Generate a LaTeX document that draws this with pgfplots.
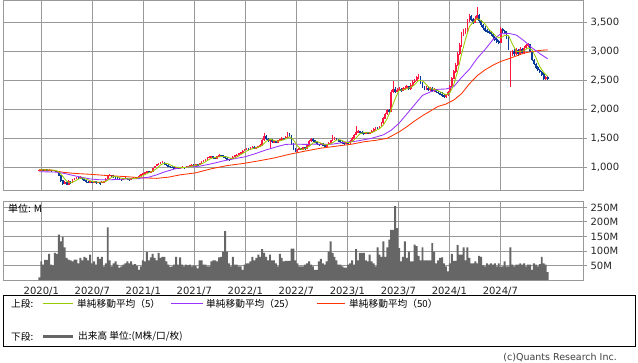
\documentclass[border=0pt]{standalone}
\usepackage{fontspec}
\setmainfont{DejaVu Sans}
\newfontfamily\jp{Noto Sans CJK JP}
\usepackage{pgfplots}
\pgfplotsset{compat=1.18}
\usepackage{pgfplotstable}

\definecolor{upc}{HTML}{FF1744}
\definecolor{dnc}{HTML}{0A3A9A}
\definecolor{mafive}{HTML}{99CC00}
\definecolor{matwentyfive}{HTML}{9933FF}
\definecolor{mafifty}{HTML}{FF3300}
\definecolor{gridc}{HTML}{999999}
\definecolor{volc}{HTML}{666666}

\pgfplotstableread{
i O H L C
0 950 965 940 955
1 955 975 950 965
2 965 970 940 950
3 950 970 945 962
4 962 968 940 948
5 948 965 942 958
6 958 962 935 945
7 945 962 940 955
8 955 958 930 940
9 940 945 915 925
10 925 930 850 860
11 860 870 740 770
12 770 790 700 720
13 720 760 710 745
14 745 755 690 705
15 705 775 700 760
16 760 770 720 735
17 735 800 730 790
18 790 820 780 810
19 810 840 800 830
20 830 840 805 815
21 815 850 810 835
22 835 840 790 800
23 800 805 770 780
24 780 785 740 750
25 750 765 735 745
26 745 770 740 760
27 760 765 730 740
28 740 765 735 755
29 755 760 725 735
30 735 755 730 745
31 745 750 695 730
32 730 760 725 750
33 750 770 745 760
34 760 810 755 800
35 800 865 795 850
36 850 880 845 870
37 870 875 845 855
38 855 860 825 835
39 835 840 810 820
40 820 830 800 810
41 810 820 790 800
42 800 805 780 790
43 790 815 785 805
44 805 825 800 815
45 815 820 790 800
46 800 805 780 790
47 790 815 785 805
48 805 825 800 815
49 815 830 810 820
50 820 840 815 830
51 830 860 825 850
52 850 890 845 880
53 880 910 875 900
54 900 920 890 910
55 910 935 905 925
56 925 930 905 915
57 915 940 910 930
58 930 995 925 985
59 985 1030 980 1020
60 1020 1055 1015 1045
61 1045 1080 1040 1070
62 1070 1095 1060 1085
63 1085 1110 1075 1095
64 1095 1100 1050 1060
65 1060 1070 1030 1040
66 1040 1050 1010 1020
67 1020 1030 1000 1010
68 1010 1020 990 1000
69 1000 1010 980 990
70 990 1010 985 1000
71 1000 1005 975 985
72 985 1005 980 995
73 995 1015 990 1005
74 1005 1010 980 990
75 990 1020 985 1010
76 1010 1030 1005 1020
77 1020 1040 1015 1030
78 1030 1050 1025 1040
79 1040 1050 1025 1035
80 1035 1055 1030 1045
81 1045 1055 1030 1040
82 1040 1080 1035 1070
83 1070 1105 1065 1095
84 1095 1130 1090 1120
85 1120 1150 1115 1140
86 1140 1170 1135 1160
87 1160 1195 1155 1180
88 1180 1200 1170 1185
89 1185 1190 1155 1165
90 1165 1175 1140 1155
91 1155 1200 1150 1190
92 1190 1225 1185 1210
93 1210 1220 1190 1200
94 1200 1205 1175 1185
95 1185 1190 1150 1160
96 1160 1170 1130 1140
97 1140 1150 1115 1130
98 1130 1160 1125 1150
99 1150 1190 1145 1180
100 1180 1210 1175 1200
101 1200 1225 1190 1215
102 1215 1250 1210 1240
103 1240 1270 1235 1260
104 1260 1290 1250 1280
105 1280 1310 1275 1300
106 1300 1335 1295 1320
107 1320 1330 1295 1310
108 1310 1355 1305 1340
109 1340 1365 1330 1350
110 1350 1360 1320 1335
111 1335 1355 1325 1345
112 1345 1370 1335 1355
113 1355 1395 1350 1380
114 1380 1490 1375 1470
115 1470 1590 1460 1540
116 1540 1560 1480 1490
117 1490 1500 1440 1460
118 1460 1490 1330 1470
119 1470 1480 1430 1440
120 1440 1465 1425 1450
121 1450 1460 1415 1430
122 1430 1475 1420 1460
123 1460 1495 1450 1480
124 1480 1515 1470 1500
125 1500 1510 1475 1490
126 1490 1535 1480 1520
127 1520 1615 1510 1580
128 1580 1600 1525 1540
129 1540 1550 1400 1410
130 1410 1420 1300 1320
131 1320 1330 1265 1280
132 1280 1315 1270 1300
133 1300 1345 1290 1330
134 1330 1340 1295 1310
135 1310 1355 1300 1340
136 1340 1350 1305 1320
137 1320 1395 1315 1380
138 1380 1465 1375 1450
139 1450 1505 1440 1490
140 1490 1500 1445 1460
141 1460 1470 1415 1430
142 1430 1440 1385 1400
143 1400 1410 1375 1390
144 1390 1425 1380 1410
145 1410 1420 1365 1380
146 1380 1390 1345 1360
147 1360 1405 1350 1390
148 1390 1435 1380 1420
149 1420 1475 1410 1460
150 1460 1560 1450 1490
151 1490 1515 1480 1500
152 1500 1510 1465 1480
153 1480 1490 1445 1460
154 1460 1470 1425 1440
155 1440 1450 1405 1420
156 1420 1430 1395 1410
157 1410 1445 1400 1430
158 1430 1440 1405 1420
159 1420 1465 1410 1450
160 1450 1515 1440 1500
161 1500 1575 1490 1560
162 1560 1715 1550 1600
163 1600 1640 1590 1620
164 1620 1630 1595 1610
165 1610 1620 1575 1590
166 1590 1600 1565 1580
167 1580 1615 1570 1600
168 1600 1610 1575 1590
169 1590 1615 1580 1600
170 1600 1640 1590 1620
171 1620 1680 1610 1660
172 1660 1700 1650 1680
173 1680 1690 1655 1670
174 1670 1720 1660 1700
175 1700 1780 1690 1760
176 1760 1860 1750 1840
177 1840 1940 1830 1920
178 1920 2010 1900 1990
179 1990 2000 1940 1960
180 1960 2340 1950 2300
181 2300 2490 2280 2340
182 2340 2380 2280 2310
183 2310 2360 2290 2330
184 2330 2380 2310 2350
185 2350 2370 2300 2320
186 2320 2390 2310 2360
187 2360 2400 2340 2370
188 2370 2420 2360 2390
189 2390 2400 2330 2350
190 2350 2450 2340 2420
191 2420 2500 2410 2470
192 2470 2520 2450 2490
193 2490 2580 2480 2550
194 2550 2605 2530 2570
195 2570 2580 2440 2460
196 2460 2470 2360 2380
197 2380 2400 2330 2350
198 2350 2400 2330 2370
199 2370 2390 2310 2330
200 2330 2380 2310 2360
201 2360 2380 2300 2320
202 2320 2370 2300 2340
203 2340 2350 2280 2300
204 2300 2320 2260 2280
205 2280 2300 2240 2260
206 2260 2290 2220 2240
207 2240 2260 2190 2220
208 2220 2270 2200 2250
209 2250 2320 2230 2300
210 2300 2420 2290 2400
211 2400 2560 2390 2530
212 2530 2680 2520 2650
213 2650 2790 2630 2760
214 2760 2980 2740 2950
215 2950 3140 2930 3100
216 3100 3340 3080 3300
217 3300 3380 3270 3340
218 3340 3400 3300 3360
219 3360 3560 3340 3520
220 3520 3640 3500 3600
221 3600 3620 3520 3550
222 3550 3580 3470 3500
223 3500 3600 3480 3560
224 3560 3770 3540 3620
225 3620 3640 3490 3520
226 3520 3540 3420 3450
227 3450 3470 3370 3400
228 3400 3430 3330 3360
229 3360 3390 3310 3340
230 3340 3370 3290 3320
231 3320 3350 3270 3300
232 3300 3320 3220 3250
233 3250 3270 3170 3200
234 3200 3230 3140 3170
235 3170 3200 3120 3150
236 3150 3420 3140 3380
237 3380 3400 3310 3350
238 3350 3370 3290 3330
239 3330 3350 3220 3250
240 3250 3260 3020 3050
241 2860 3000 2390 2980
242 2980 3030 2920 3000
243 3000 3040 2920 2950
244 2950 3060 2930 3020
245 3020 3040 2920 2960
246 2960 3080 2940 3040
247 3040 3060 2950 2980
248 2980 3090 2960 3060
249 3060 3130 3040 3100
250 3100 3150 3080 3120
251 3120 3130 2980 3000
252 3000 3020 2830 2850
253 2850 2870 2760 2780
254 2780 2800 2700 2720
255 2720 2740 2660 2680
256 2680 2700 2620 2640
257 2640 2660 2580 2600
258 2600 2620 2510 2530
259 2530 2580 2510 2560
260 2560 2570 2500 2520
}\candles

\pgfplotsset{
  candle/.style n args={3}{draw=none, mark=none, forget plot,
    restrict expr to domain={\thisrow{C}-\thisrow{O}}{#1},
    error bars/.cd, y dir=both, y explicit, error mark=none,
    error bar style={draw=#2, solid, line width=#3}},
}

\begin{document}
\begin{tikzpicture}[x=1pt,y=1pt]
\useasboundingbox (0,0) rectangle (638,-362);
\fill[white] (0,0) rectangle (638,-362);

% ---------------- price panel ----------------
\begin{axis}[
  at={(3pt,0pt)}, anchor=north west,
  scale only axis, width=580pt, height=190pt,
  xmin=-18.57, xmax=278.1, ymin=609, ymax=3884,
  axis line style={gridc, line width=0.9pt},
  grid=major, grid style={gridc, line width=0.9pt},
  xtick={1.02,27.11,53.2,79.29,105.38,131.47,157.56,183.65,209.74,235.83},
  xticklabels={},
  major x tick style={draw=none},
  ytick={1000,1500,2000,2500,3000,3500},
  ytick pos=right, yticklabel pos=right,
  tick align=outside, major tick length=4pt,
  major y tick style={gridc, line width=0.9pt},
  yticklabel style={font=\fontsize{10}{12}\selectfont, text=black!85},
  /pgf/number format/1000 sep={,},
  /pgf/number format/assume math mode=true,
]
% wicks
\addplot[candle={0:100000}{upc}{0.75pt}]
  table[x=i, y=C, y error plus expr=\thisrow{H}-\thisrow{C}, y error minus expr=\thisrow{C}-\thisrow{L}] {\candles};
\addplot[candle={-100000:-0.5}{dnc}{0.75pt}]
  table[x=i, y=C, y error plus expr=\thisrow{H}-\thisrow{C}, y error minus expr=\thisrow{C}-\thisrow{L}] {\candles};
% bodies
\addplot[candle={0:100000}{upc}{1.8pt}]
  table[x=i, y expr=(\thisrow{O}+\thisrow{C})/2, y error expr=abs(\thisrow{C}-\thisrow{O})/2+4] {\candles};
\addplot[candle={-100000:-0.5}{dnc}{1.8pt}]
  table[x=i, y expr=(\thisrow{O}+\thisrow{C})/2, y error expr=abs(\thisrow{C}-\thisrow{O})/2+4] {\candles};

% MA50
\addplot[mafifty, line width=0.85pt, mark=none] coordinates {
(0,955)(6,952)(12,915)(18,895)(26,880)(36,855)(44,840)(52,820)(60,810)(66,830)(72,870)(80,905)(88,975)(96,1030)(104,1065)(112,1110)(120,1160)(128,1225)(136,1280)(144,1330)(152,1365)(160,1400)(166,1440)(172,1465)(178,1500)(184,1610)(188,1700)(192,1800)(196,1890)(200,1970)(204,2050)(208,2090)(212,2160)(216,2270)(220,2440)(224,2580)(228,2680)(232,2760)(236,2825)(240,2870)(244,2920)(248,2970)(252,2995)(256,3015)(260,3025)
};
% MA25
\addplot[matwentyfive, line width=0.85pt, mark=none] coordinates {
(0,925)(8,918)(12,900)(16,870)(20,840)(26,800)(31,785)(36,785)(42,795)(50,805)(56,830)(60,870)(64,920)(70,980)(76,1005)(82,1020)(88,1060)(94,1110)(100,1150)(105,1180)(110,1230)(116,1300)(122,1360)(126,1395)(130,1400)(136,1395)(142,1400)(146,1395)(150,1400)(156,1430)(162,1450)(170,1500)(176,1560)(180,1640)(184,1760)(188,1920)(192,2080)(196,2240)(200,2300)(204,2345)(208,2350)(212,2390)(216,2550)(220,2690)(224,2880)(228,3030)(232,3200)(236,3300)(240,3310)(244,3280)(248,3180)(252,3060)(256,2960)(260,2870)
};
% MA5
\addplot[mafive, line width=0.85pt, mark=none] coordinates {
(0,955)(2,957)(4,956)(6,953)(8,949)(10,925)(12,843)(14,760)(16,733)(18,760)(20,796)(22,818)(24,796)(26,767)(28,750)(30,747)(32,743)(34,757)(36,806)(38,842)(40,838)(42,811)(44,804)(46,800)(48,805)(50,812)(52,839)(54,874)(56,906)(58,933)(60,979)(62,1041)(64,1071)(66,1060)(68,1026)(70,1004)(72,994)(74,995)(76,1004)(78,1018)(80,1034)(82,1046)(84,1074)(86,1117)(88,1157)(90,1169)(92,1181)(94,1188)(96,1179)(98,1153)(100,1160)(102,1197)(104,1239)(106,1280)(108,1310)(110,1331)(112,1345)(114,1377)(116,1447)(118,1486)(120,1462)(122,1450)(124,1464)(126,1490)(128,1526)(130,1474)(132,1370)(134,1308)(136,1320)(138,1360)(140,1420)(142,1446)(144,1418)(146,1388)(148,1392)(150,1424)(152,1470)(154,1474)(156,1442)(158,1424)(160,1442)(162,1506)(164,1578)(166,1600)(168,1594)(170,1598)(172,1630)(174,1666)(176,1730)(178,1842)(180,2002)(182,2180)(184,2326)(186,2334)(188,2358)(190,2378)(192,2424)(194,2500)(196,2490)(198,2426)(200,2358)(202,2344)(204,2320)(206,2284)(208,2250)(210,2282)(212,2426)(214,2658)(216,2952)(218,3210)(220,3424)(222,3506)(224,3566)(226,3530)(228,3470)(230,3374)(232,3314)(234,3248)(236,3230)(238,3276)(240,3272)(242,3122)(244,3000)(246,2994)(248,3012)(250,3060)(252,3026)(254,2894)(256,2734)(258,2634)(260,2570)
};
\end{axis}

% ---------------- volume panel ----------------
\begin{axis}[
  at={(3pt,-201pt)}, anchor=north west,
  scale only axis, width=580pt, height=79pt,
  xmin=-18.57, xmax=278.1, ymin=0, ymax=272,
  axis line style={gridc, line width=0.9pt},
  grid=major, grid style={gridc, line width=0.9pt},
  xtick={1.02,27.11,53.2,79.29,105.38,131.47,157.56,183.65,209.74,235.83},
  xticklabels={2020/1,2020/7,2021/1,2021/7,2022/1,2022/7,2023/1,2023/7,2024/1,2024/7},
  major x tick style={draw=none},
  xticklabel style={font=\fontsize{10}{12}\selectfont, text=black!85},
  ytick={50,100,150,200,250},
  yticklabel={\pgfmathprintnumber{\tick}M},
  ytick pos=right, yticklabel pos=right,
  tick align=outside, major tick length=4pt,
  major y tick style={gridc, line width=0.9pt},
  yticklabel style={font=\fontsize{10}{12}\selectfont, text=black!85},
  /pgf/number format/assume math mode=true,
]
\addplot[ybar, bar width=1.96pt, fill=volc, draw=none] coordinates {
(0,9)(1,64)(2,53)(3,69)(4,69)(5,90)(6,53)(7,50)(8,93)(9,90)
(10,156)(11,133)(12,148)(13,112)(14,76)(15,70)(16,68)(17,64)(18,70)(19,70)
(20,57)(21,76)(22,68)(23,80)(24,76)(25,68)(26,87)(27,57)(28,64)(29,53)
(30,80)(31,73)(32,80)(33,47)(34,57)(35,181)(36,68)(37,47)(38,57)(39,64)
(40,53)(41,43)(42,47)(43,53)(44,57)(45,64)(46,57)(47,64)(48,53)(49,55)
(50,48)(51,35)(52,47)(53,68)(54,64)(55,96)(56,68)(57,78)(58,90)(59,76)
(60,68)(61,93)(62,76)(63,80)(64,80)(65,64)(66,53)(67,45)(68,47)(69,53)
(70,80)(71,53)(72,78)(73,53)(74,47)(75,53)(76,50)(77,53)(78,47)(79,50)
(80,48)(81,40)(82,68)(83,68)(84,53)(85,53)(86,47)(87,47)(88,64)(89,68)
(90,68)(91,64)(92,78)(93,80)(94,98)(95,168)(96,98)(97,57)(98,47)(99,80)
(100,53)(101,53)(102,47)(103,47)(104,35)(105,53)(106,57)(107,57)(108,64)(109,80)
(110,68)(111,76)(112,87)(113,80)(114,106)(115,93)(116,80)(117,68)(118,87)(119,68)
(120,68)(121,57)(122,47)(123,90)(124,76)(125,64)(126,66)(127,66)(128,66)(129,108)
(130,108)(131,68)(132,57)(133,47)(134,47)(135,47)(136,53)(137,57)(138,64)(139,53)
(140,47)(141,35)(142,35)(143,64)(144,73)(145,57)(146,53)(147,64)(148,98)(149,133)
(150,93)(151,80)(152,68)(153,53)(154,53)(155,47)(156,43)(157,43)(158,53)(159,57)
(160,68)(161,53)(162,106)(163,68)(164,93)(165,93)(166,93)(167,68)(168,64)(169,87)
(170,64)(171,57)(172,47)(173,112)(174,87)(175,80)(176,133)(177,80)(178,112)(179,139)
(180,173)(181,173)(182,254)(183,179)(184,110)(185,64)(186,80)(187,133)(188,76)(189,98)
(190,64)(191,64)(192,122)(193,117)(194,83)(195,68)(196,112)(197,68)(198,68)(199,68)
(200,68)(201,127)(202,98)(203,57)(204,68)(205,76)(206,78)(207,57)(208,47)(209,30)
(210,57)(211,90)(212,66)(213,66)(214,120)(215,87)(216,87)(217,112)(218,68)(219,112)
(220,76)(221,57)(222,57)(223,64)(224,57)(225,83)(226,80)(227,50)(228,47)(229,57)
(230,53)(231,57)(232,53)(233,57)(234,47)(235,57)(236,45)(237,47)(238,64)(239,47)
(240,47)(241,112)(242,53)(243,47)(244,53)(245,53)(246,57)(247,53)(248,57)(249,47)
(250,53)(251,53)(252,35)(253,57)(254,53)(255,47)(256,55)(257,80)(258,57)(259,53)
(260,27)
};
\end{axis}
\node[anchor=west, inner sep=0pt, font=\jp\fontsize{10}{12}\selectfont] at (8,-209) {単位: M};

% ---------------- legend box ----------------
\draw[black, line width=0.8pt] (3.5,-295) rectangle (635,-346);
\begin{scope}[every node/.style={anchor=west, inner sep=0pt, font=\jp\fontsize{9.7}{11}\selectfont}]
\node at (11,-303.5) {上段:};
\draw[mafive, line width=1pt] (43,-303.5) -- (73,-303.5);
\node at (77,-303.5) {単純移動平均（5）};
\draw[matwentyfive, line width=1pt] (171,-303.5) -- (203,-303.5);
\node at (206,-303.5) {単純移動平均（25）};
\draw[mafifty, line width=1pt] (317,-303.5) -- (345,-303.5);
\node at (349,-303.5) {単純移動平均（50）};
\node at (11,-336.5) {下段:};
\draw[volc, line width=3pt] (43,-336.5) -- (73,-336.5);
\node at (78,-336.5) {出来高 単位:(M株/口/枚)};
\end{scope}
\node[anchor=east, inner sep=0pt, font=\fontsize{9.5}{11}\selectfont, text=black!75] at (617,-357.5) {(c)Quants Research Inc.};
\end{tikzpicture}
\end{document}
